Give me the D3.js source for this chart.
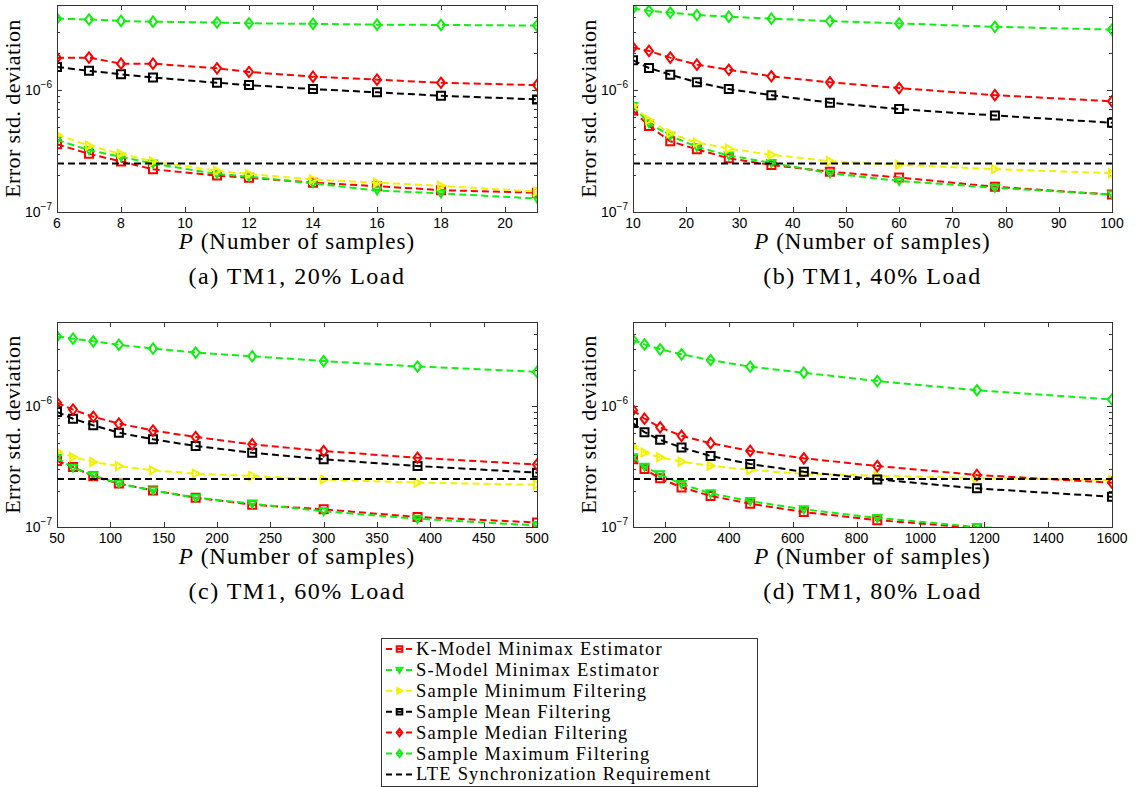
<!DOCTYPE html>
<html>
<head>
<meta charset="utf-8">
<script src="https://cdn.jsdelivr.net/npm/d3@7"></script>
<style>
  body { margin: 0; background: #fff; }
  svg { display: block; }
</style>
</head>
<body>
<svg id="chart" width="1135" height="787"></svg>
<script>
// ---- data ----
var seriesNames = ["K-Model Minimax Estimator", "S-Model Minimax Estimator", "Sample Minimum Filtering",
  "Sample Mean Filtering", "Sample Median Filtering", "Sample Maximum Filtering"];
var lteName = "LTE Synchronization Requirement";
var lteLevel = 2.5e-7;

// (a) TM1, 20% load
var pA = [6, 7, 8, 9, 11, 12, 14, 16, 18, 21];
var kA = [3.6e-7, 3.0e-7, 2.6e-7, 2.24e-7, 1.99e-7, 1.91e-7, 1.74e-7, 1.63e-7, 1.51e-7, 1.44e-7];
var sA = [3.9e-7, 3.22e-7, 2.84e-7, 2.5e-7, 2.05e-7, 1.95e-7, 1.72e-7, 1.5e-7, 1.42e-7, 1.29e-7];
var minA = [4.33e-7, 3.5e-7, 3.0e-7, 2.6e-7, 2.18e-7, 2.05e-7, 1.85e-7, 1.74e-7, 1.64e-7, 1.47e-7];
var meanA = [1.55e-6, 1.44e-6, 1.35e-6, 1.27e-6, 1.15e-6, 1.1e-6, 1.02e-6, 9.6e-7, 9.0e-7, 8.4e-7];
var medA = [1.84e-6, 1.85e-6, 1.65e-6, 1.65e-6, 1.51e-6, 1.41e-6, 1.29e-6, 1.22e-6, 1.15e-6, 1.1e-6];
var maxA = [3.87e-6, 3.8e-6, 3.7e-6, 3.65e-6, 3.59e-6, 3.54e-6, 3.5e-6, 3.45e-6, 3.43e-6, 3.39e-6];
var ticksA = [6, 8, 10, 12, 14, 16, 18, 20];

// (b) TM1, 40% load
var pB = [10, 13, 17, 22, 28, 36, 47, 60, 78, 100];
var kB = [6.8e-7, 5.09e-7, 3.81e-7, 3.27e-7, 2.76e-7, 2.43e-7, 2.14e-7, 1.92e-7, 1.61e-7, 1.39e-7];
var sB = [7.4e-7, 5.36e-7, 4.22e-7, 3.42e-7, 2.91e-7, 2.53e-7, 2.08e-7, 1.8e-7, 1.58e-7, 1.39e-7];
var minB = [7.5e-7, 5.7e-7, 4.42e-7, 3.71e-7, 3.31e-7, 2.95e-7, 2.61e-7, 2.44e-7, 2.25e-7, 2.08e-7];
var meanB = [1.76e-6, 1.52e-6, 1.34e-6, 1.16e-6, 1.02e-6, 9.1e-7, 7.9e-7, 7.0e-7, 6.2e-7, 5.4e-7];
var medB = [2.24e-6, 2.1e-6, 1.85e-6, 1.62e-6, 1.47e-6, 1.3e-6, 1.16e-6, 1.04e-6, 9.1e-7, 8.1e-7];
var maxB = [4.68e-6, 4.48e-6, 4.33e-6, 4.14e-6, 4.01e-6, 3.86e-6, 3.69e-6, 3.53e-6, 3.31e-6, 3.14e-6];
var ticksB = [10, 20, 30, 40, 50, 60, 70, 80, 90, 100];

// (c) TM1, 60% load
var pC = [50, 65, 84, 108, 140, 180, 233, 300, 388, 500];
var kC = [3.52e-7, 3.14e-7, 2.63e-7, 2.29e-7, 2.01e-7, 1.75e-7, 1.53e-7, 1.4e-7, 1.21e-7, 1.09e-7];
var sC = [3.75e-7, 3.1e-7, 2.68e-7, 2.29e-7, 2.01e-7, 1.75e-7, 1.56e-7, 1.35e-7, 1.17e-7, 1.03e-7];
var minC = [4.24e-7, 3.8e-7, 3.46e-7, 3.2e-7, 2.95e-7, 2.77e-7, 2.65e-7, 2.47e-7, 2.33e-7, 2.24e-7];
var meanC = [8.98e-7, 7.9e-7, 6.96e-7, 6.05e-7, 5.33e-7, 4.69e-7, 4.13e-7, 3.64e-7, 3.2e-7, 2.82e-7];
var medC = [1.07e-6, 9.4e-7, 8.2e-7, 7.2e-7, 6.3e-7, 5.57e-7, 4.84e-7, 4.26e-7, 3.75e-7, 3.29e-7];
var maxC = [3.8e-6, 3.64e-6, 3.46e-6, 3.24e-6, 3.01e-6, 2.79e-6, 2.6e-6, 2.37e-6, 2.14e-6, 1.93e-6];
var ticksC = [50, 100, 150, 200, 250, 300, 350, 400, 450, 500];

// (d) TM1, 80% load
var pD = [100, 136, 185, 252, 343, 467, 635, 865, 1177, 1600];
var kD = [3.64e-7, 3.02e-7, 2.53e-7, 2.13e-7, 1.81e-7, 1.56e-7, 1.33e-7, 1.14e-7, 9.8e-8, 8.5e-8];
var sD = [3.78e-7, 3.16e-7, 2.73e-7, 2.27e-7, 1.9e-7, 1.64e-7, 1.4e-7, 1.19e-7, 1.0e-7, 8.8e-8];
var minD = [4.64e-7, 4.14e-7, 3.78e-7, 3.48e-7, 3.22e-7, 2.97e-7, 2.75e-7, 2.66e-7, 2.55e-7, 2.45e-7];
var meanD = [7.26e-7, 6.1e-7, 5.28e-7, 4.55e-7, 3.88e-7, 3.33e-7, 2.87e-7, 2.48e-7, 2.09e-7, 1.78e-7];
var medD = [9.3e-7, 7.9e-7, 6.7e-7, 5.7e-7, 4.95e-7, 4.27e-7, 3.71e-7, 3.2e-7, 2.7e-7, 2.33e-7];
var maxD = [3.55e-6, 3.26e-6, 2.97e-6, 2.7e-6, 2.42e-6, 2.13e-6, 1.9e-6, 1.62e-6, 1.36e-6, 1.14e-6];
var ticksD = [200, 400, 600, 800, 1000, 1200, 1400, 1600];

var yDomain = [1e-7, 5e-6];

// ---- styles ----
var seriesColors = ["#ff0000", "#11ee11", "#f2f200", "#000000", "#ff0000", "#11ee11"];
var seriesMarkers = ["square", "triDown", "triRight", "square", "diamond", "diamond"];
var serif = "'Liberation Serif', 'DejaVu Serif', serif";
var sans = "'Liberation Sans', Arial, sans-serif";

var panels = [
  { id: "a", left: 57, right: 537, top: 5, bottom: 212, p: pA, ticks: ticksA,
    series: [kA, sA, minA, meanA, medA, maxA], caption: "(a) TM1, 20% Load" },
  { id: "b", left: 633, right: 1112, top: 5, bottom: 212, p: pB, ticks: ticksB,
    series: [kB, sB, minB, meanB, medB, maxB], caption: "(b) TM1, 40% Load" },
  { id: "c", left: 57, right: 537, top: 322, bottom: 527, p: pC, ticks: ticksC,
    series: [kC, sC, minC, meanC, medC, maxC], caption: "(c) TM1, 60% Load" },
  { id: "d", left: 633, right: 1112, top: 322, bottom: 527, p: pD, ticks: ticksD,
    series: [kD, sD, minD, meanD, medD, maxD], caption: "(d) TM1, 80% Load" }
];

var svg = d3.select("#chart");

// marker shapes, s = half size
function markerPath(type, s) {
  if (type == "square") return "M" + (-s) + "," + (-s) + "H" + s + "V" + s + "H" + (-s) + "Z";
  if (type == "diamond") return "M0," + (-s * 1.3) + "L" + s + ",0L0," + (s * 1.3) + "L" + (-s) + ",0Z";
  if (type == "triDown") return "M" + (-s) + "," + (-s * 0.75) + "L" + s + "," + (-s * 0.75) + "L0," + s + "Z";
  if (type == "triRight") return "M" + (-s * 0.75) + "," + (-s) + "L" + s + ",0L" + (-s * 0.75) + "," + s + "Z";
}

function drawPanel(pn) {
  var x = d3.scaleLinear().domain([pn.p[0], pn.p[pn.p.length - 1]]).range([pn.left, pn.right]);
  var y = d3.scaleLog().domain(yDomain).range([pn.bottom, pn.top]);
  var g = svg.append("g").attr("class", "panel-" + pn.id);

  // clip to the axes box like matlab does
  svg.append("clipPath").attr("id", "clip-" + pn.id)
    .append("rect")
    .attr("x", pn.left).attr("y", pn.top)
    .attr("width", pn.right - pn.left).attr("height", pn.bottom - pn.top);

  // inward ticks, on all four sides
  var xt = g.append("g").attr("stroke", "#333").attr("stroke-width", 1);
  pn.ticks.forEach(function (t) {
    var px = Math.round(x(t)) + 0.5;
    xt.append("line").attr("x1", px).attr("x2", px).attr("y1", pn.bottom).attr("y2", pn.bottom - 5);
    xt.append("line").attr("x1", px).attr("x2", px).attr("y1", pn.top).attr("y2", pn.top + 5);
  });
  y.ticks().forEach(function (t) {
    var major = Math.abs(Math.log10(t) - Math.round(Math.log10(t))) < 1e-9;
    var len = major ? 5 : 3;
    var py = Math.round(y(t)) + 0.5;
    xt.append("line").attr("x1", pn.left).attr("x2", pn.left + len).attr("y1", py).attr("y2", py);
    xt.append("line").attr("x1", pn.right).attr("x2", pn.right - len).attr("y1", py).attr("y2", py);
  });

  // x tick labels
  g.append("g").selectAll("text")
    .data(pn.ticks).enter().append("text")
    .attr("x", function (d) { return x(d); })
    .attr("y", pn.bottom + 16)
    .attr("text-anchor", "middle")
    .attr("font-family", sans).attr("font-size", 14)
    .text(function (d) { return d; });

  // y tick labels 10^-7, 10^-6
  [1e-7, 1e-6].forEach(function (t) {
    var lbl = g.append("text")
      .attr("x", pn.left - 5)
      .attr("y", y(t) + 5)
      .attr("text-anchor", "end")
      .attr("font-family", sans).attr("font-size", 14);
    lbl.append("tspan").text("10");
    lbl.append("tspan").attr("dy", -7).attr("font-size", 10).text("\u2212" + (-Math.round(Math.log10(t))));
  });

  // series
  var plot = g.append("g").attr("clip-path", "url(#clip-" + pn.id + ")");
  var line = d3.line()
    .x(function (d) { return x(d[0]); })
    .y(function (d) { return y(d[1]); });

  pn.series.forEach(function (vals, i) {
    var pts = pn.p.map(function (p, j) { return [p, vals[j]]; });
    plot.append("path")
      .attr("d", line(pts))
      .attr("fill", "none")
      .attr("stroke", seriesColors[i])
      .attr("stroke-width", 2)
      .attr("stroke-dasharray", "7,4");
    plot.selectAll(".m" + i)
      .data(pts).enter().append("path")
      .attr("class", "m" + i)
      .attr("transform", function (d) { return "translate(" + x(d[0]) + "," + y(d[1]) + ")"; })
      .attr("d", markerPath(seriesMarkers[i], 4))
      .attr("fill", "none")
      .attr("stroke", seriesColors[i])
      .attr("stroke-width", 2);
  });

  // LTE requirement
  plot.append("line")
    .attr("x1", x.range()[0]).attr("x2", x.range()[1])
    .attr("y1", y(lteLevel)).attr("y2", y(lteLevel))
    .attr("stroke", "#000").attr("stroke-width", 2)
    .attr("stroke-dasharray", "7,4");

  // box
  g.append("rect")
    .attr("x", pn.left + 0.5).attr("y", pn.top + 0.5)
    .attr("width", pn.right - pn.left).attr("height", pn.bottom - pn.top)
    .attr("fill", "none").attr("stroke", "#333").attr("stroke-width", 1);

  // axis labels
  var xl = g.append("text")
    .attr("x", (pn.left + pn.right) / 2)
    .attr("y", pn.bottom + 37)
    .attr("text-anchor", "middle")
    .attr("font-family", serif).attr("font-size", 23)
    .attr("letter-spacing", 1);
  xl.append("tspan").attr("font-style", "italic").text("P");
  xl.append("tspan").text(" (Number of samples)");

  g.append("text")
    .attr("transform", "translate(" + (pn.left - 37) + "," + ((pn.top + pn.bottom) / 2) + ") rotate(-90)")
    .attr("text-anchor", "middle")
    .attr("font-family", serif).attr("font-size", 22)
    .attr("letter-spacing", 0.4)
    .text("Error std.  deviation");

  g.append("text")
    .attr("x", (pn.left + pn.right) / 2)
    .attr("y", pn.bottom + 72)
    .attr("text-anchor", "middle")
    .attr("font-family", serif).attr("font-size", 24)
    .attr("letter-spacing", 1.5)
    .text(pn.caption);
}

panels.forEach(drawPanel);

// ---- legend ----
function drawLegend() {
  var lx = 381, ly = 638, lw = 376, lh = 148, rowH = 20.9;
  var lg = svg.append("g").attr("class", "legend");
  lg.append("rect")
    .attr("x", lx + 0.5).attr("y", ly + 0.5).attr("width", lw).attr("height", lh)
    .attr("fill", "#fff").attr("stroke", "#333").attr("stroke-width", 1);

  var names = seriesNames.concat([lteName]);
  names.forEach(function (name, i) {
    var cy = ly + 11 + i * rowH;
    var col = i < 6 ? seriesColors[i] : "#000";
    lg.append("line")
      .attr("x1", lx + 5).attr("x2", lx + 32)
      .attr("y1", cy).attr("y2", cy)
      .attr("stroke", col).attr("stroke-width", 2)
      .attr("stroke-dasharray", "6,4");
    if (i < 6) {
      lg.append("path")
        .attr("transform", "translate(" + (lx + 18.5) + "," + cy + ")")
        .attr("d", markerPath(seriesMarkers[i], 2.8))
        .attr("fill", "none")
        .attr("stroke", col)
        .attr("stroke-width", 2);
    }
    lg.append("text")
      .attr("x", lx + 35)
      .attr("y", cy + 6)
      .attr("font-family", serif).attr("font-size", 18.5)
      .attr("letter-spacing", 1.2)
      .text(name);
  });
}

drawLegend();
</script>
</body>
</html>
